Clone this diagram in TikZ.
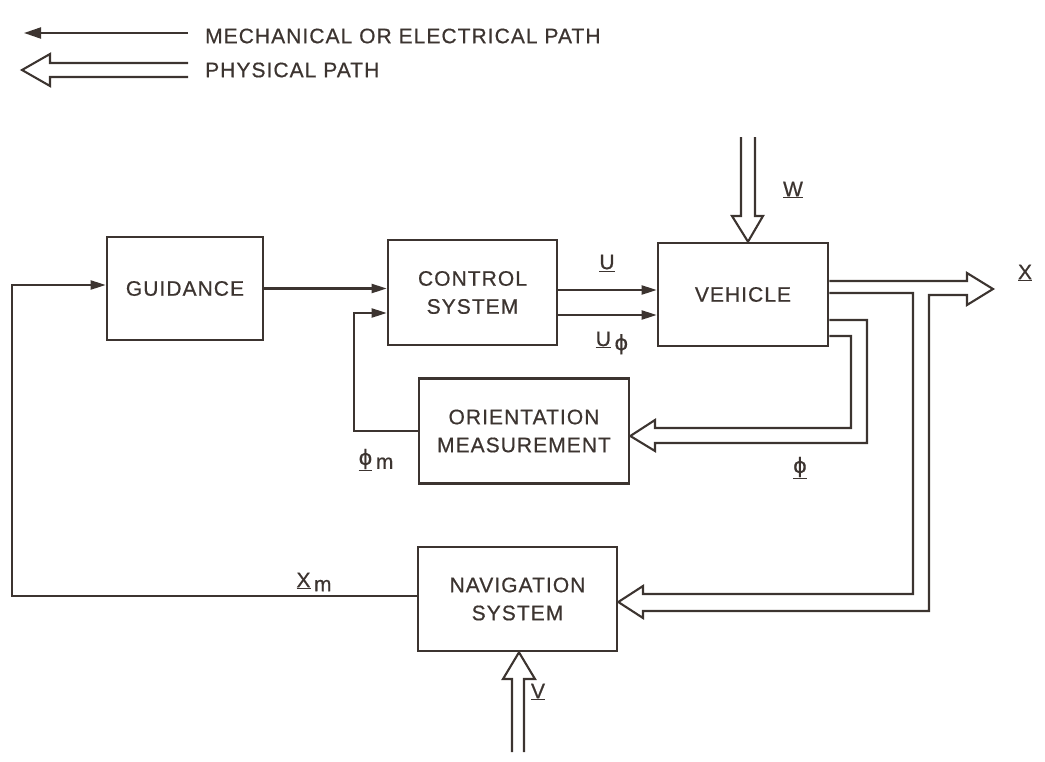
\documentclass[tikz,border=0pt]{standalone}
\usepackage{fontspec}
\setmainfont[LetterSpace=5,FakeBold=0.6]{Liberation Sans}
\newfontfamily\phifont[FakeBold=0.6]{DejaVu Sans}
\newcommand{\myphi}{{\phifont ϕ}}
\usetikzlibrary{arrows.meta,calc}
\definecolor{ink}{RGB}{60,52,48}
\begin{document}
\begin{tikzpicture}[x=1pt,y=-1pt,
  every node/.style={text=ink,font=\fontsize{21}{28}\selectfont},
  box/.style={draw=ink,line width=2.6pt,align=center,inner sep=0pt},
  sig/.style={draw=ink,line width=2.1pt,-{Triangle[length=15pt,width=9pt]}},
  phys/.style={draw=ink,line width=2.1pt,line join=miter}]
\useasboundingbox (0,0) rectangle (1045,761);

% boxes
\node[box,minimum width=156pt,minimum height=103pt] (gui) at (185,288.5) {GUIDANCE};
\node[box,minimum width=169pt,minimum height=105pt] (ctl) at (472.5,292.5) {CONTROL\\SYSTEM};
\node[box,minimum width=170pt,minimum height=103pt] (veh) at (743,294.5) {VEHICLE};
\node[box,minimum width=210pt,minimum height=105pt] (ori) at (524,431) {ORIENTATION\\MEASUREMENT};
\node[box,minimum width=199pt,minimum height=104pt] (nav) at (517.5,599) {NAVIGATION\\SYSTEM};

% signal paths
\draw[sig] ([yshift=3pt]nav.west) -- (12,596) -- (12,285) -- ([yshift=3.5pt]gui.west);
\draw[sig] (gui.east) coordinate (g1) -- (g1 -| ctl.west);
\draw[sig] (ori.west) -- (354,431) -- (354,313) -- ([yshift=-20.5pt]ctl.west);
\draw[sig] ([yshift=2.5pt]ctl.east) coordinate (u1) -- (u1 -| veh.west);
\draw[sig] ([yshift=-22.5pt]ctl.east) coordinate (u2) -- (u2 -| veh.west);

% physical paths
\coordinate (wtip) at ($(veh.north)+(5,0)$);
\draw[phys] (741,137) -- (741,216) -- (732,216) -- (wtip) -- (763,216) -- (755,216) -- (755,137);

\coordinate (ntip) at ($(nav.east)+(0,3)$);
\draw[phys] ([yshift=13.5pt]veh.east) -- (967,281) -- (967,273) -- (993,289) -- (967,305)
  -- (967,295) -- (929,295) -- (929,611) -- (643,611) -- (643,618) -- (ntip)
  -- (643,586) -- (643,594) -- (913,594) -- (913,293) -- ([yshift=1.5pt]veh.east);

\coordinate (otip) at ($(ori.east)+(0,5)$);
\draw[phys] ([yshift=-25.5pt]veh.east) -- (867,320) -- (867,443) -- (655,443) -- (655,451) -- (otip)
  -- (655,420) -- (655,428) -- (851,428) -- (851,336) -- ([yshift=-41.5pt]veh.east);

\coordinate (vtip) at ($(nav.south)+(1.5,0)$);
\draw[phys] (512,752) -- (512,679) -- (503,679) -- (vtip) -- (535,679) -- (524,679) -- (524,752);

% labels
\node (lU) at (607,263) {\underline{U}};
\node (lUphi) at (612,343) {\underline{U}\,\raisebox{-4pt}{\myphi}};
\node (lW) at (793,190) {\underline{W}};
\node (lX) at (1025,273) {\underline{X}};
\node (lphi) at (800,468) {\underline{\myphi}};
\node (lphim) at (376,460) {\underline{\myphi}\,\raisebox{-4pt}{m}};
\node (lXm) at (314,582) {\underline{X}\,\raisebox{-4pt}{m}};
\node (lV) at (538,692) {\underline{V}};

% legend
\node[anchor=west,inner sep=0pt] (leg1) at (205,36) {MECHANICAL OR ELECTRICAL PATH};
\node[anchor=west,inner sep=0pt] (leg2) at (205,70) {PHYSICAL PATH};
\coordinate (l1end) at (24,33);
\draw[draw=ink,line width=2.1pt,-{Triangle[length=17pt,width=11pt]}] (188,33) -- (l1end);
\draw[phys] (188,63) -- (50,63) -- (50,54) -- (22,70) -- (50,86) -- (50,77) -- (188,77);
\end{tikzpicture}
\end{document}
